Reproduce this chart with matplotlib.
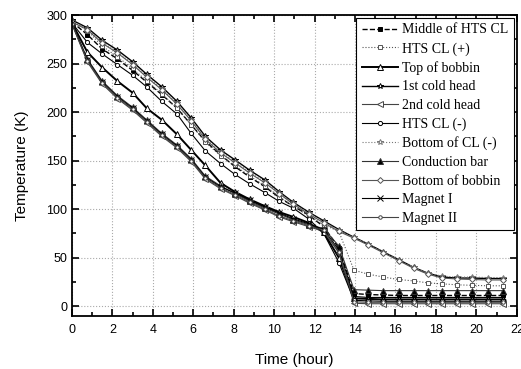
import matplotlib
matplotlib.use("Agg")
import matplotlib.pyplot as plt
from matplotlib.ticker import MultipleLocator

# sample times (hour)
time_h = [0, 0.76, 1.5, 2.25, 3.0, 3.7, 4.45, 5.2, 5.9, 6.6, 7.35, 8.05, 8.8, 9.55,
          10.25, 10.95, 11.7, 12.45, 13.2, 13.95, 14.65, 15.4, 16.15, 16.9, 17.6,
          18.3, 19.05, 19.8, 20.55, 21.3]

# temperatures (K)
middle_hts_cl = [293, 280, 265, 255, 243, 231, 218, 204, 187, 170, 156, 144, 133, 123,
                 112, 103, 94, 82, 60, 13, 12, 11.5, 11, 11, 11, 11, 11, 11, 11, 11]
hts_cl_plus = [294, 284, 268, 257, 245, 232, 219, 204, 187, 169, 155, 145, 134, 124,
               113, 103, 93, 84, 77, 37, 33, 30, 27.5, 26, 24, 23, 22, 21.5, 21, 21]
top_bobbin = [292, 262, 246, 232, 220, 204, 192, 177, 161, 145, 127, 118, 110, 103,
              97, 92, 86, 76, 50, 8, 7.5, 7, 7, 7, 7, 7, 7, 7, 7, 7]
cold_head_1 = [295, 287, 274, 264, 252, 239, 226, 211, 194, 175, 161, 151, 140, 130,
               118, 107, 97, 88, 79, 71, 64, 56, 48, 40, 34, 30, 29, 29, 28.5, 28.5]
cold_head_2 = [291, 252, 229, 214, 202, 189, 175, 163, 149, 131, 121, 114, 106, 99,
               92, 87, 82, 77, 55, 3, 2.5, 2.5, 2.5, 2.5, 2.5, 2.5, 2.5, 2.5, 2.5, 2.5]
hts_cl_minus = [292, 272, 260, 249, 238, 226, 211, 198, 178, 160, 147, 136, 126, 117,
                108, 101, 90, 75, 45, 6, 5.5, 5, 5, 5, 5, 5, 5, 5, 5, 5]
bottom_cl_minus = [294, 286, 272, 262, 250, 237, 224, 209, 192, 173, 159, 149, 138, 128,
                   117, 106, 96, 87, 78, 71, 64, 56, 48, 40, 34, 31, 30, 30, 29.5, 29.5]
conduction_bar = [292, 255, 232, 217, 205, 192, 178, 166, 152, 134, 124, 116, 108, 101,
                  95, 89, 84, 80, 62, 17, 16.5, 16, 16, 16, 16, 16, 16, 16, 16, 16]
bottom_bobbin = [293, 285, 271, 261, 249, 236, 223, 208, 191, 172, 158, 148, 137, 127,
                 116, 105, 95, 86, 77, 70, 63, 55, 47, 39, 33, 29, 28, 27.5, 27, 27]
magnet_1 = [292, 254, 231, 216, 204, 191, 177, 165, 151, 133, 123, 117, 109, 102,
            96, 90, 85, 79, 58, 10, 9, 9, 9, 9, 9, 9, 9, 9, 9, 9]
magnet_2 = [291, 253, 230, 215, 203, 190, 176, 164, 150, 132, 122, 115, 107, 100,
            93, 88, 83, 78, 56, 4.5, 4, 4, 4, 4, 4, 4, 4, 4, 4, 4]

series = [
    ("Middle of HTS CL", middle_hts_cl, "s", "--", 1.0, "k", "k"),
    ("HTS CL (+)", hts_cl_plus, "s", ":", 0.8, "#555555", "white"),
    ("Top of bobbin", top_bobbin, "^", "-", 1.4, "k", "white"),
    ("1st cold head", cold_head_1, "*", "-", 1.0, "k", "white"),
    ("2nd cold head", cold_head_2, "<", "-", 0.8, "#444444", "white"),
    ("HTS CL (-)", hts_cl_minus, "o", "-", 0.8, "k", "white"),
    ("Bottom of CL (-)", bottom_cl_minus, "*", ":", 0.8, "#777777", "white"),
    ("Conduction bar", conduction_bar, "^", "-", 0.8, "#333333", "k"),
    ("Bottom of bobbin", bottom_bobbin, "D", "-", 0.8, "#555555", "white"),
    ("Magnet I", magnet_1, "x", "-", 0.8, "k", "k"),
    ("Magnet II", magnet_2, "o", "-", 0.8, "#444444", "white"),
]

fig = plt.figure(figsize=(5.21, 3.69), dpi=100)
ax = fig.add_axes([0.138, 0.144, 0.854, 0.815])

for label, vals, mk, ls, lw, col, face in series:
    ms = 3 if mk in ("o", "D", "s") else 4
    if label == "Magnet II":
        ms = 2.5
    ax.plot(time_h, vals, linestyle=ls, linewidth=lw, color=col, marker=mk,
            markersize=ms, markerfacecolor=face, markeredgecolor=col,
            markeredgewidth=0.7, label=label)

ax.set_xlim(0, 22)
ax.set_ylim(-10, 300)
ax.xaxis.set_major_locator(MultipleLocator(2))
ax.xaxis.set_minor_locator(MultipleLocator(1))
ax.yaxis.set_major_locator(MultipleLocator(50))
ax.yaxis.set_minor_locator(MultipleLocator(25))
ax.tick_params(which="both", direction="in", top=True, right=True, width=1.2)
ax.tick_params(which="major", length=5, labelsize=9)
ax.tick_params(axis="x", which="major", pad=6)
ax.tick_params(which="minor", length=3)
for lab in ax.get_xticklabels() + ax.get_yticklabels():
    lab.set_family("Liberation Sans")
for sp in ax.spines.values():
    sp.set_linewidth(1.3)

ax.grid(True, which="major", linestyle=":", color="#aaaaaa", linewidth=0.8)

ax.set_xlabel("Time (hour)", fontsize=11, family="Liberation Sans", labelpad=12)
ax.set_ylabel("Temperature (K)", fontsize=11, family="Liberation Sans", labelpad=12)

leg = ax.legend(loc="upper right", prop={"family": "Liberation Serif", "size": 10},
                fancybox=False, edgecolor="k", framealpha=1, labelspacing=0.4,
                handlelength=2.6, handletextpad=0.3, borderaxespad=0.2,
                borderpad=0.4)
leg.get_frame().set_linewidth(0.8)

fig.savefig("out.png", dpi=100)
